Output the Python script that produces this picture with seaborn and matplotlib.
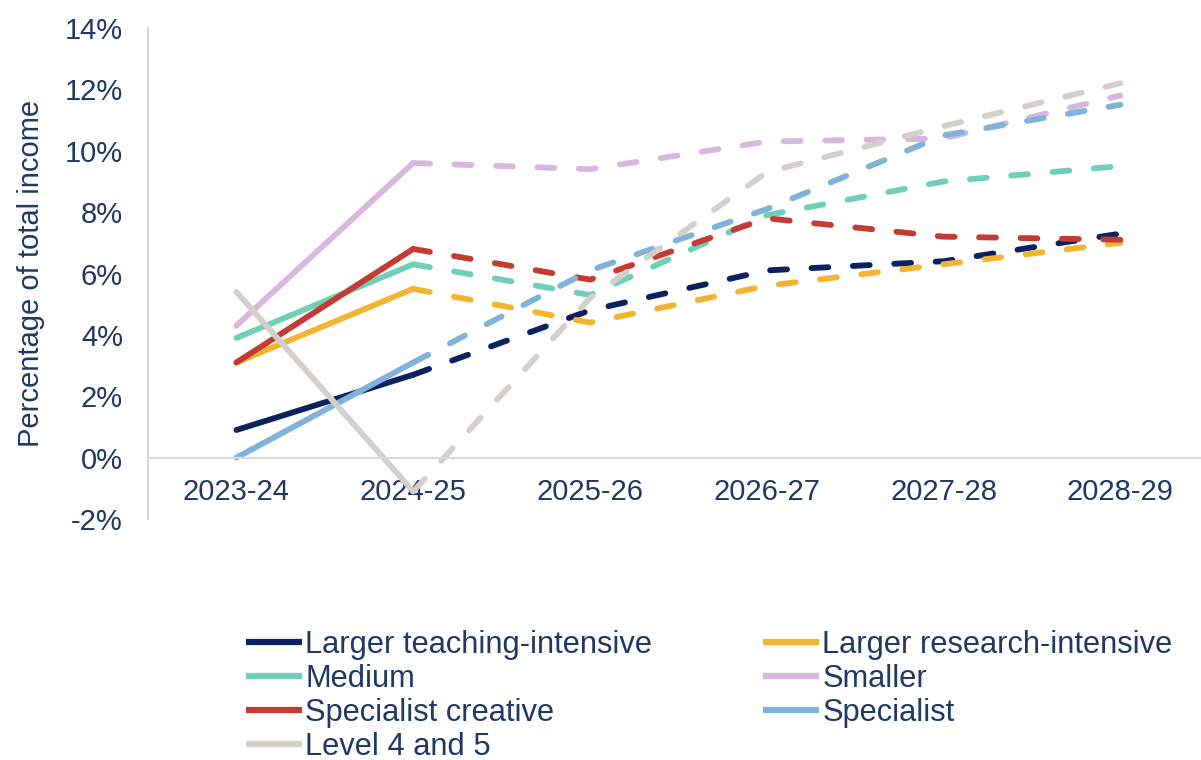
import numpy as np
import pandas as pd
import seaborn as sns
import matplotlib.pyplot as plt
from matplotlib.lines import Line2D

years = ["2023-24", "2024-25", "2025-26", "2026-27", "2027-28", "2028-29"]

groups = [
    "Larger teaching-intensive",
    "Larger research-intensive",
    "Medium",
    "Smaller",
    "Specialist creative",
    "Specialist",
    "Level 4 and 5",
]

larger_teaching = [0.9, 2.7, 4.8, 6.1, 6.4, 7.3]
larger_research = [3.1, 5.5, 4.4, 5.6, 6.3, 7.0]
medium = [3.9, 6.3, 5.3, 7.9, 9.0, 9.5]
smaller = [4.3, 9.6, 9.4, 10.3, 10.4, 11.8]
specialist_creative = [3.1, 6.8, 5.8, 7.8, 7.2, 7.1]
specialist = [0.0, 3.1, 6.1, 8.1, 10.5, 11.5]
level_4_5 = [5.4, -1.1, 5.2, 9.3, 10.8, 12.2]

colours = ["#0b2160", "#f2b531", "#6fd0b7", "#d8b7df",
           "#c43b33", "#7fb3dc", "#d3cfca"]

series = [larger_teaching, larger_research, medium, smaller,
          specialist_creative, specialist, level_4_5]

# actual = first two years (solid), forecast = from 2024-25 onwards (dashed)
rows = []
for name, vals in zip(groups, series):
    for i, v in enumerate(vals):
        if i <= 1:
            rows.append({"x": i, "value": v, "group": name, "part": "actual"})
        if i >= 1:
            rows.append({"x": i, "value": v, "group": name, "part": "forecast"})
df = pd.DataFrame(rows)

navy = "#1f3864"
grey = "#d9d9d9"

sns.set_theme(style="white")
plt.rcParams["font.family"] = ["Liberation Sans", "DejaVu Sans"]

fig = plt.figure(figsize=(12.01, 7.6), dpi=100)
ax = fig.add_axes([148 / 1201, 241 / 760, 1053 / 1201, 491 / 760])

sns.lineplot(
    data=df, x="x", y="value", hue="group", style="part",
    hue_order=groups, palette=dict(zip(groups, colours)),
    dashes={"actual": "", "forecast": (2.9, 4.2)},
    estimator=None, sort=False, linewidth=4.2, legend=False, ax=ax,
)
for line in ax.get_lines():
    line.set_dash_capstyle("round")
    line.set_solid_capstyle("round")

ax.set_xlim(-0.5, -0.5 + 1053 / 176.8)
ax.set_ylim(-2, 14)
ax.set_xticks(range(len(years)))
ax.set_xticklabels(years)
yt = list(range(-2, 15, 2))
ax.set_yticks(yt)
ax.set_yticklabels([f"{v}%" for v in yt])

for s in ["top", "right"]:
    ax.spines[s].set_visible(False)
ax.spines["bottom"].set_position(("data", 0))
ax.spines["bottom"].set_color(grey)
ax.spines["left"].set_color(grey)
ax.spines["bottom"].set_linewidth(1.5)
ax.spines["left"].set_linewidth(1.5)
ax.tick_params(axis="both", which="major", direction="out", length=6,
               width=1.5, color=grey, labelcolor=navy, labelsize=21)
ax.tick_params(axis="x", pad=9)
ax.tick_params(axis="y", pad=12)
ax.set_xlabel("")
ax.set_ylabel("Percentage of total income", fontsize=21, color=navy, labelpad=14)

# legend filled column-wise: left column then right column
order = [0, 2, 4, 6, 1, 3, 5]
handles = [Line2D([], [], color=colours[i], lw=4.5, solid_capstyle="butt") for i in order]
labels = [groups[i] for i in order]
fig.legend(handles, labels, ncol=2, frameon=False, loc="upper left",
           bbox_to_anchor=(246 / 1201, 1 - 630 / 760), borderpad=0,
           borderaxespad=0, fontsize=22.2, labelcolor=navy,
           handlelength=1.8, handletextpad=0.12, labelspacing=0.13,
           columnspacing=3.6)

fig.savefig("out.png", dpi=100)
